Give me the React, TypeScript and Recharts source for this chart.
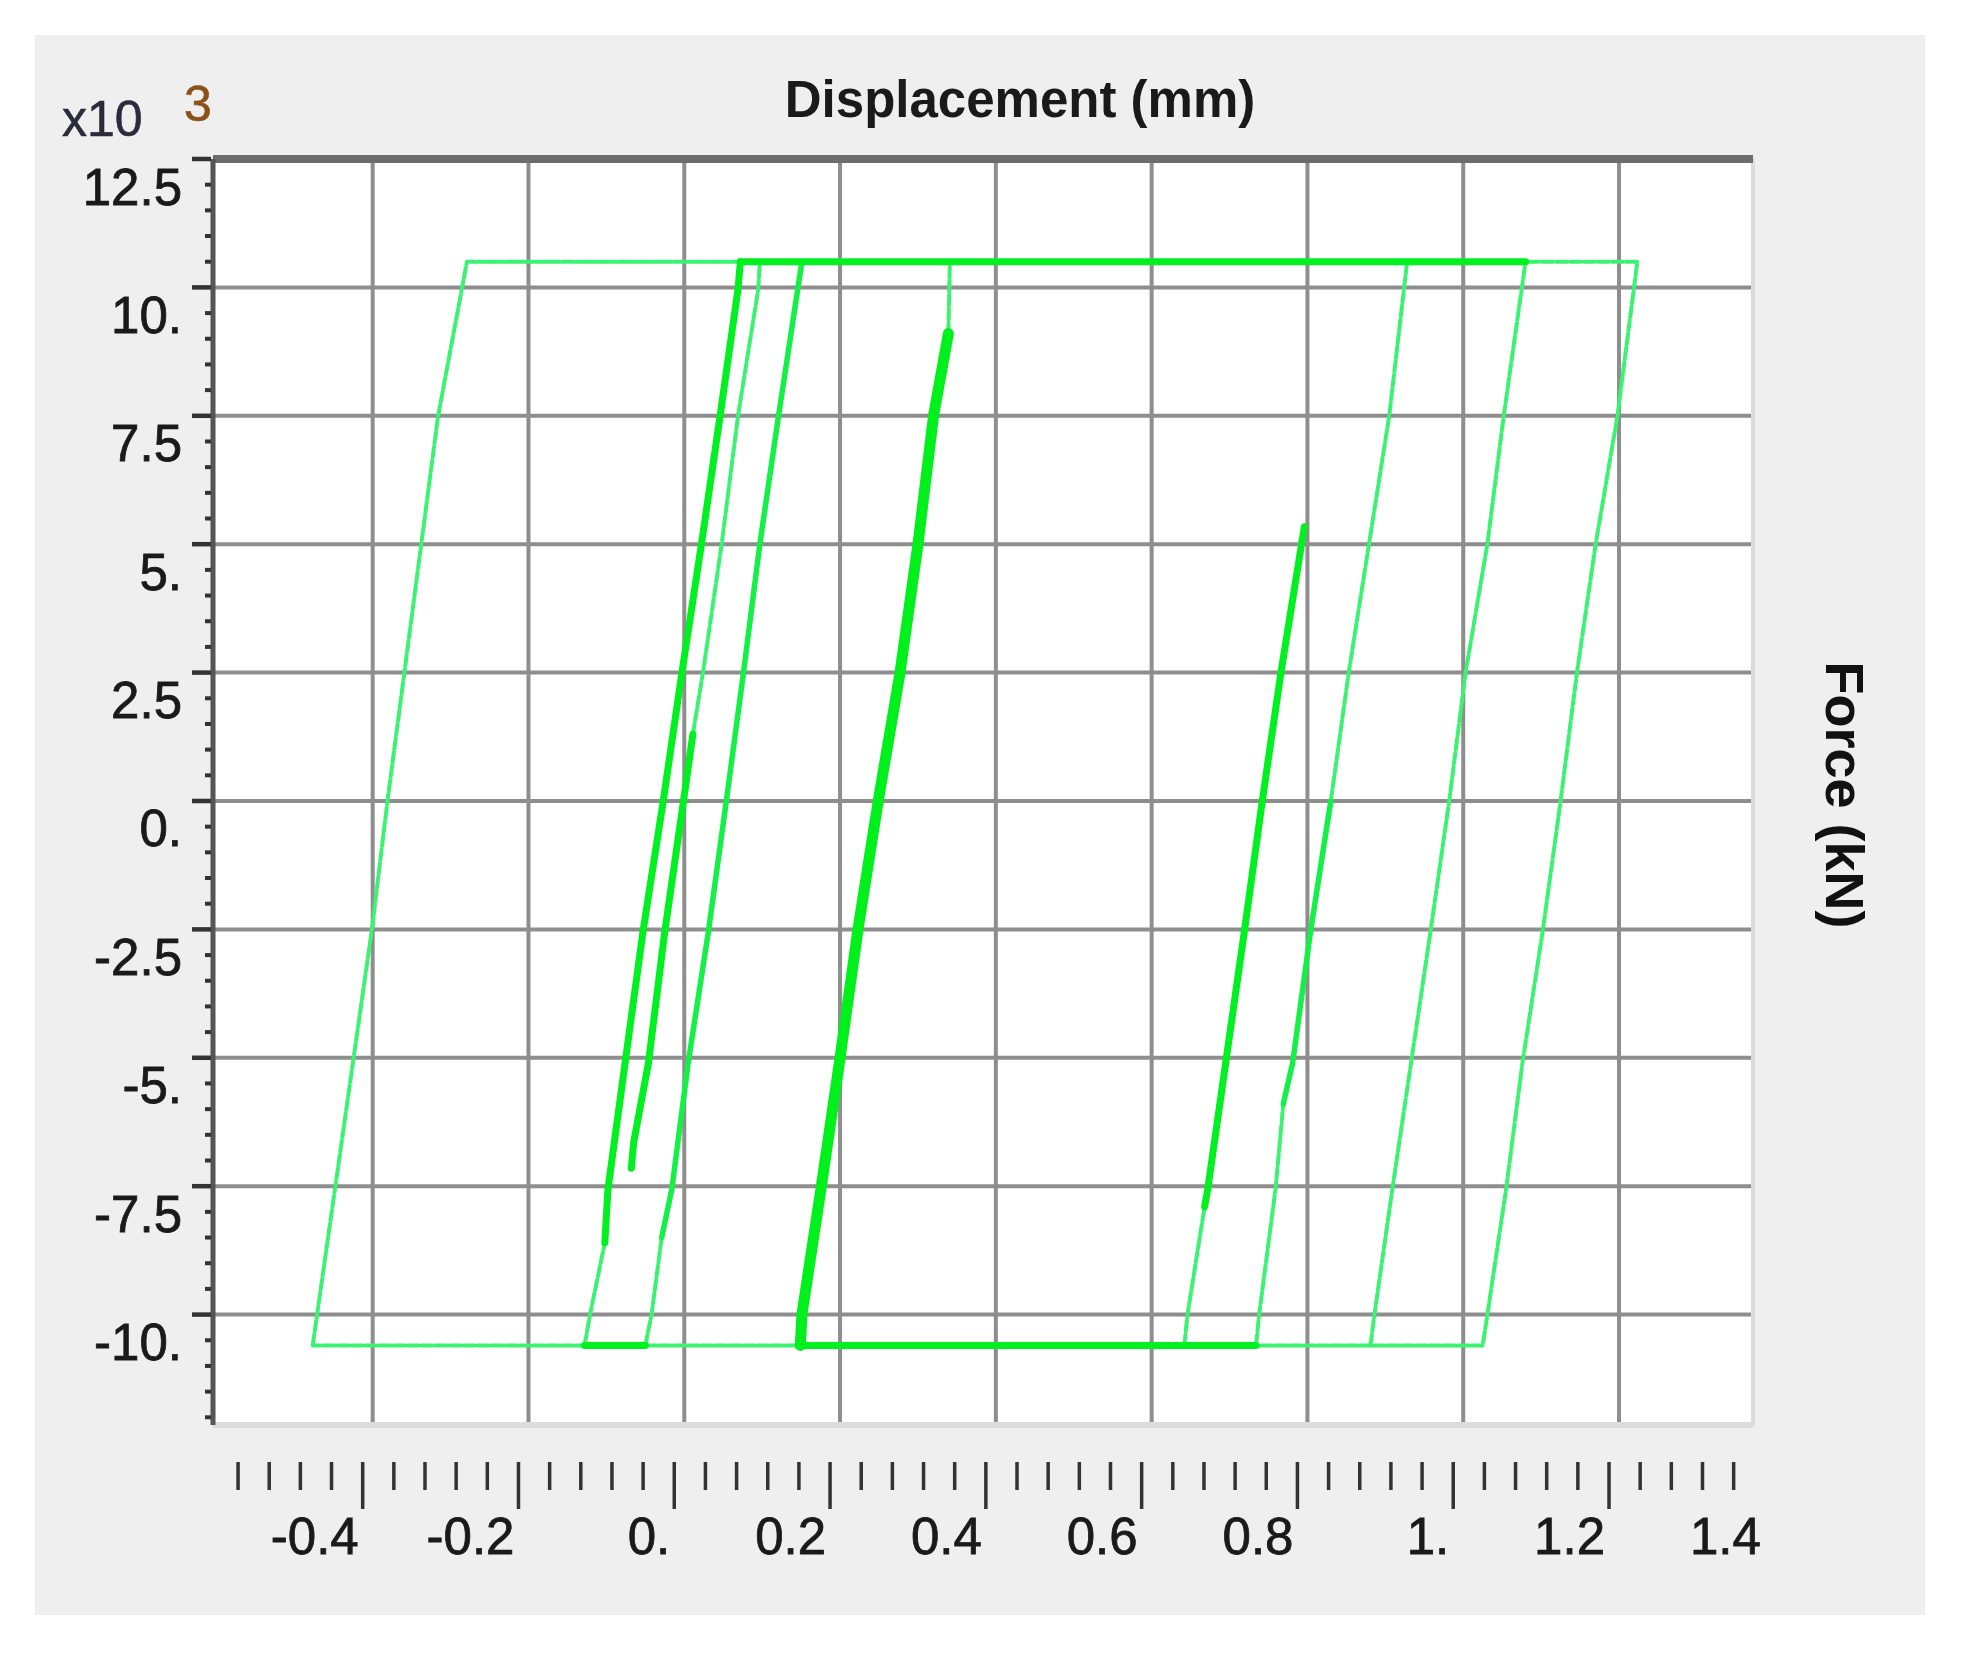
import {
  CartesianGrid,
  Line,
  LineChart,
  ReferenceLine,
  XAxis,
  YAxis,
} from "recharts";

// axis setup
const xDomain = [-0.605, 1.372];
const yDomain = [-12.15, 12.5];

const xGrid = [-0.4, -0.2, 0, 0.2, 0.4, 0.6, 0.8, 1, 1.2];
const xLabelValues = [-0.4, -0.2, 0, 0.2, 0.4, 0.6, 0.8, 1, 1.2, 1.4];
const xLabels = ["-0.4", "-0.2", "0.", "0.2", "0.4", "0.6", "0.8", "1.", "1.2", "1.4"];
const xRuler = [
  -0.56, -0.52, -0.48, -0.44, -0.4, -0.36, -0.32, -0.28, -0.24, -0.2, -0.16,
  -0.12, -0.08, -0.04, 0, 0.04, 0.08, 0.12, 0.16, 0.2, 0.24, 0.28, 0.32, 0.36,
  0.4, 0.44, 0.48, 0.52, 0.56, 0.6, 0.64, 0.68, 0.72, 0.76, 0.8, 0.84, 0.88,
  0.92, 0.96, 1, 1.04, 1.08, 1.12, 1.16, 1.2, 1.24, 1.28, 1.32, 1.36,
];

const yGrid = [-10, -7.5, -5, -2.5, 0, 2.5, 5, 7.5, 10];
const yLabelValues = [-10, -7.5, -5, -2.5, 0, 2.5, 5, 7.5, 10, 12.5];
const yLabels = ["-10.", "-7.5", "-5.", "-2.5", "0.", "2.5", "5.", "7.5", "10.", "12.5"];
const yRuler = [
  -12, -11.5, -11, -10.5, -10, -9.5, -9, -8.5, -8, -7.5, -7, -6.5, -6, -5.5,
  -5, -4.5, -4, -3.5, -3, -2.5, -2, -1.5, -1, -0.5, 0, 0.5, 1, 1.5, 2, 2.5, 3,
  3.5, 4, 4.5, 5, 5.5, 6, 6.5, 7, 7.5, 8, 8.5, 9, 9.5, 10, 10.5, 11, 11.5, 12,
  12.5,
];

// hysteresis branches: displacement (mm), force (x10^3 kN)
const outerLoop = [
  { x: -0.477, y: -10.6 }, { x: -0.401, y: -2.5 }, { x: -0.381, y: 0 },
  { x: -0.316, y: 7.5 }, { x: -0.279, y: 10.5 }, { x: 1.2235, y: 10.5 },
  { x: 1.198, y: 7.5 }, { x: 1.17, y: 5 }, { x: 1.146, y: 2.5 },
  { x: 1.125, y: 0 }, { x: 1.102, y: -2.54 }, { x: 1.076, y: -5.1 },
  { x: 1.055, y: -7.56 }, { x: 1.031, y: -10 }, { x: 1.025, y: -10.6 },
  { x: -0.477, y: -10.6 },
];
const plateauTop = [{ x: 0.072, y: 10.5 }, { x: 1.08, y: 10.5 }];
const plateauBottomA = [{ x: -0.128, y: -10.6 }, { x: -0.05, y: -10.6 }];
const plateauBottomB = [{ x: 0.149, y: -10.6 }, { x: 0.734, y: -10.6 }];

const branchALow = [{ x: -0.128, y: -10.6 }, { x: -0.121, y: -10 }, { x: -0.102, y: -8.6 }];
const branchAHigh = [
  { x: -0.102, y: -8.6 }, { x: -0.098, y: -7.56 }, { x: -0.076, y: -5.1 },
  { x: -0.053, y: -2.54 }, { x: -0.027, y: 0 }, { x: -0.003, y: 2.5 },
  { x: 0.022, y: 5 }, { x: 0.046, y: 7.5 }, { x: 0.069, y: 9.97 }, { x: 0.072, y: 10.5 },
];
const branchBLow = [
  { x: -0.068, y: -7.15 }, { x: -0.065, y: -6.65 }, { x: -0.046, y: -5.1 },
  { x: -0.025, y: -2.54 }, { x: -0.001, y: 0 }, { x: 0.011, y: 1.3 },
];
const branchBHigh = [
  { x: 0.011, y: 1.3 }, { x: 0.024, y: 2.5 }, { x: 0.048, y: 5 },
  { x: 0.069, y: 7.5 }, { x: 0.095, y: 9.97 }, { x: 0.097, y: 10.5 },
];
const branchCLow = [{ x: -0.05, y: -10.6 }, { x: -0.042, y: -10 }, { x: -0.029, y: -8.5 }];
const branchCHigh = [
  { x: -0.029, y: -8.5 }, { x: -0.016, y: -7.56 }, { x: 0.005, y: -5.1 },
  { x: 0.031, y: -2.54 }, { x: 0.054, y: 0 }, { x: 0.076, y: 2.5 },
  { x: 0.097, y: 5 }, { x: 0.121, y: 7.5 }, { x: 0.151, y: 10.5 },
];
const middleCluster = [
  { x: 0.149, y: -10.6 }, { x: 0.151, y: -10 }, { x: 0.176, y: -7.5 },
  { x: 0.2, y: -5 }, { x: 0.223, y: -2.5 }, { x: 0.249, y: 0 },
  { x: 0.277, y: 2.5 }, { x: 0.3, y: 5 }, { x: 0.32, y: 7.5 }, { x: 0.339, y: 9.1 },
];
const middleTop = [{ x: 0.339, y: 9.1 }, { x: 0.341, y: 10.5 }];
const branchDLow = [{ x: 0.642, y: -10.6 }, { x: 0.646, y: -10 }, { x: 0.668, y: -7.9 }];
const branchDHigh = [
  { x: 0.668, y: -7.9 }, { x: 0.672, y: -7.56 }, { x: 0.695, y: -5.1 },
  { x: 0.719, y: -2.54 }, { x: 0.742, y: 0 }, { x: 0.766, y: 2.5 }, { x: 0.796, y: 5.34 },
];
const branchELow = [
  { x: 0.734, y: -10.6 }, { x: 0.738, y: -10 }, { x: 0.759, y: -7.56 }, { x: 0.769, y: -5.9 },
];
const branchEMid = [
  { x: 0.769, y: -5.9 }, { x: 0.781, y: -5.1 }, { x: 0.804, y: -2.54 }, { x: 0.83, y: 0 },
];
const branchEHigh = [
  { x: 0.83, y: 0 }, { x: 0.853, y: 2.5 }, { x: 0.879, y: 5 },
  { x: 0.905, y: 7.5 }, { x: 0.928, y: 10.5 },
];
const branchF = [
  { x: 0.881, y: -10.6 }, { x: 0.886, y: -10 }, { x: 0.909, y: -7.56 },
  { x: 0.933, y: -5.1 }, { x: 0.958, y: -2.54 }, { x: 0.982, y: 0 },
  { x: 1.003, y: 2.5 }, { x: 1.031, y: 5 }, { x: 1.052, y: 7.5 }, { x: 1.08, y: 10.5 },
];

const styles = {
  thin: { stroke: "#3cf273", strokeWidth: 4, strokeDasharray: "11 3" },
  medium: { stroke: "#14f046", strokeWidth: 5.5 },
  thick: { stroke: "#00f020", strokeWidth: 7 },
  heavy: { stroke: "#00f01c", strokeWidth: 11 },
};

const branches = [
  { id: "outer", data: outerLoop, kind: "thin" },
  { id: "aLow", data: branchALow, kind: "thin" },
  { id: "bHigh", data: branchBHigh, kind: "thin" },
  { id: "cLow", data: branchCLow, kind: "thin" },
  { id: "midTop", data: middleTop, kind: "thin" },
  { id: "dLow", data: branchDLow, kind: "thin" },
  { id: "eLow", data: branchELow, kind: "thin" },
  { id: "eHigh", data: branchEHigh, kind: "thin" },
  { id: "f", data: branchF, kind: "thin" },
  { id: "cHigh", data: branchCHigh, kind: "medium" },
  { id: "eMid", data: branchEMid, kind: "medium" },
  { id: "top", data: plateauTop, kind: "thick" },
  { id: "botA", data: plateauBottomA, kind: "thick" },
  { id: "botB", data: plateauBottomB, kind: "thick" },
  { id: "aHigh", data: branchAHigh, kind: "thick" },
  { id: "bLow", data: branchBLow, kind: "thick" },
  { id: "dHigh", data: branchDHigh, kind: "thick" },
  { id: "mid", data: middleCluster, kind: "heavy" },
];

const font = "'Liberation Sans', Arial, sans-serif";
const near = (a: number, b: number) => Math.abs(a - b) < 1e-6;

function RulerTick({ x, payload }: any) {
  const v = payload.value;
  const tx = x - 10;
  const major = xGrid.some((g) => near(g, v));
  const li = xLabelValues.findIndex((g) => near(g, v));
  return (
    <g>
      {v < 1.37 && (
        <line x1={tx} x2={tx} y1={1462} y2={major ? 1509 : 1490} stroke="#333" strokeWidth={3.5} />
      )}
      {li >= 0 && (
        <text x={tx - 4} y={1536} textAnchor="end" dominantBaseline="central"
          fontFamily={font} fontSize={51} fill="#1a1a1a" stroke="#1a1a1a" strokeWidth={0.8}>
          {xLabels[li]}
        </text>
      )}
    </g>
  );
}

function ForceTick({ y, payload }: any) {
  const v = payload.value;
  const li = yLabelValues.findIndex((g) => near(g, v));
  const major = li >= 0;
  return (
    <g>
      <line x1={major ? 192 : 205} x2={211} y1={y} y2={y} stroke="#333" strokeWidth={major ? 4.5 : 4} />
      {major && (
        <text x={182} y={y + 28} textAnchor="end" dominantBaseline="central"
          fontFamily={font} fontSize={51} fill="#1a1a1a" stroke="#1a1a1a" strokeWidth={0.8}>
          {yLabels[li]}
        </text>
      )}
    </g>
  );
}

export default function App() {
  return (
    <div style={{ position: "absolute", left: 0, top: 0, width: 1963, height: 1655, background: "#fff" }}>
      <div style={{ position: "absolute", left: 35, top: 35, width: 1890, height: 1580, background: "#efefef" }} />
      <div style={{ position: "absolute", left: 0, top: 0 }}>
        <LineChart width={1963} height={1655} margin={{ top: 159, right: 210, bottom: 80, left: 63 }}>
          <CartesianGrid
            horizontalValues={yGrid}
            verticalValues={xGrid}
            stroke="#8e8e8e"
            strokeWidth={4}
            fill="#ffffff"
            fillOpacity={1}
          />
          <XAxis
            type="number"
            dataKey="x"
            domain={xDomain}
            allowDataOverflow
            ticks={[...xRuler, 1.4]}
            interval={0}
            height={150}
            axisLine={false}
            tickLine={false}
            tick={<RulerTick />}
          />
          <YAxis
            type="number"
            dataKey="y"
            domain={yDomain}
            allowDataOverflow
            ticks={yRuler}
            interval={0}
            width={150}
            axisLine={{ stroke: "#555", strokeWidth: 5 }}
            tickLine={false}
            tick={<ForceTick />}
          />
          <ReferenceLine x={1.372} stroke="#dcdcdc" strokeWidth={4} />
          <ReferenceLine y={-12.15} stroke="#dcdcdc" strokeWidth={6} />
          {branches.map((b) => (
            <Line
              key={b.id}
              data={b.data}
              dataKey="y"
              type="linear"
              dot={false}
              activeDot={false}
              isAnimationActive={false}
              strokeLinecap="round"
              strokeLinejoin="round"
              {...styles[b.kind as keyof typeof styles]}
            />
          ))}
          <ReferenceLine y={12.5} stroke="#6c6c6c" strokeWidth={8} />
        </LineChart>
      </div>
      <svg width={1963} height={1655} style={{ position: "absolute", left: 0, top: 0, pointerEvents: "none" }}>
        <text x={1020} y={117} textAnchor="middle" fontFamily={font} fontWeight="bold" fontSize={51} fill="#1a1a1a">
          Displacement (mm)
        </text>
        <text x={62} y={136} fontFamily={font} fontSize={50} fill="#2b2b3a" stroke="#2b2b3a" strokeWidth={0.6}>x10</text>
        <text x={184} y={121} fontFamily={font} fontSize={50} fill="#8a5216" stroke="#8a5216" strokeWidth={0.6}>3</text>
        <text
          transform="translate(1826 795) rotate(90)"
          textAnchor="middle"
          fontFamily={font}
          fontWeight="bold"
          fontSize={54}
          fill="#111"
        >
          Force (kN)
        </text>
      </svg>
    </div>
  );
}
